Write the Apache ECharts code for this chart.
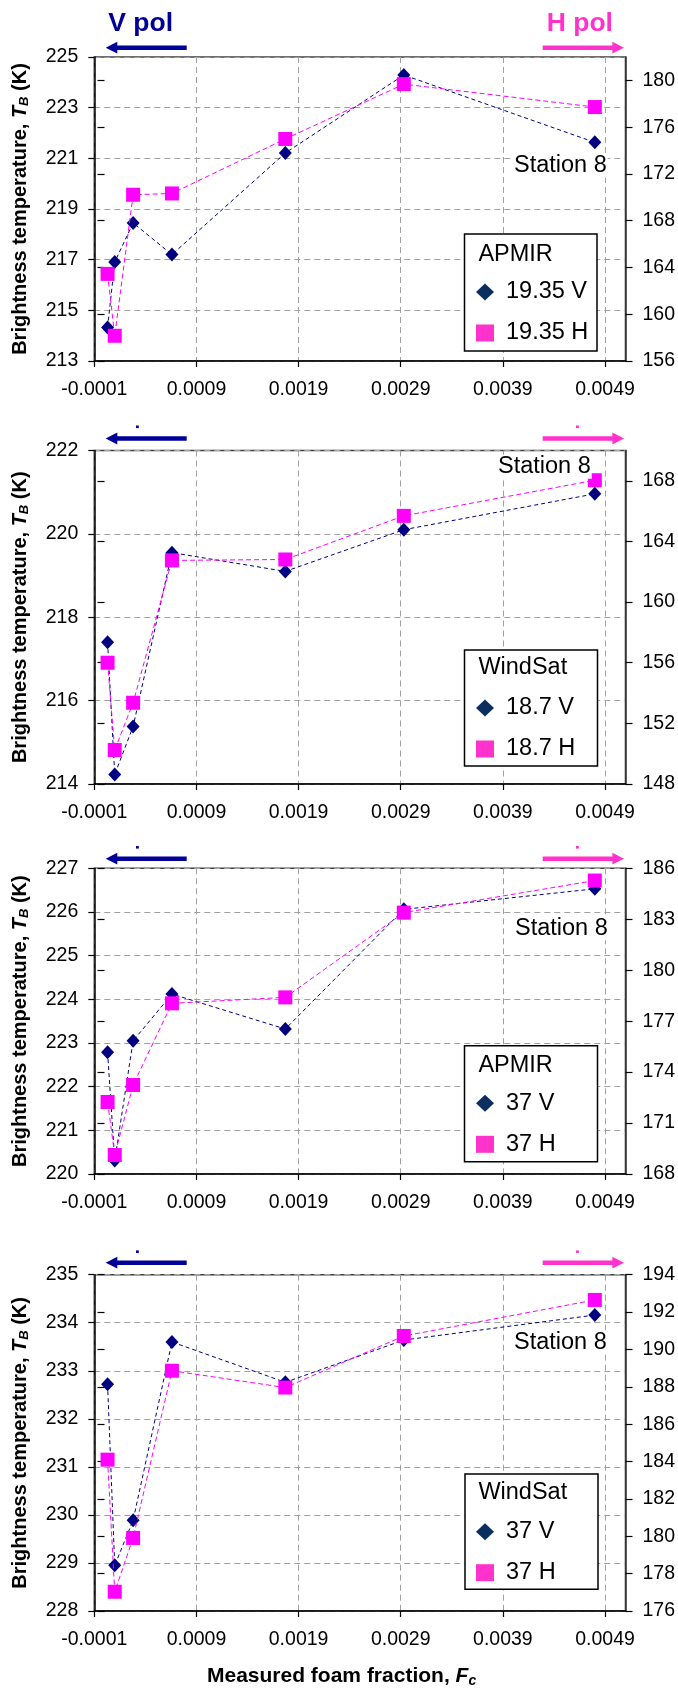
<!DOCTYPE html>
<html><head><meta charset="utf-8">
<script src="https://cdn.jsdelivr.net/npm/echarts@6/dist/echarts.min.js"></script>
<style>html,body{margin:0;padding:0;background:#fff}#c{width:678px;height:1689px}</style>
</head><body><div id="c"></div>
<script>
// ---- data ----
const fc = [0.00003, 0.0001, 0.00028, 0.00066, 0.00177, 0.00293, 0.0048];
const xTicks = [-0.0001, 0.0009, 0.0019, 0.0029, 0.0039, 0.0049];

const p1V = [214.32, 216.91, 218.45, 217.2, 221.21, 224.29, 221.63];
const p1H = [163.45, 158.16, 170.22, 170.33, 174.99, 179.68, 177.72];
const p2V = [217.4, 214.23, 215.38, 219.55, 219.1, 220.1, 220.96];
const p2H = [156.0, 150.24, 153.36, 162.75, 162.81, 165.69, 168.04];
const p3V = [222.79, 220.31, 223.05, 224.12, 223.32, 226.06, 226.53];
const p3H = [172.24, 169.12, 173.24, 178.05, 178.4, 183.39, 185.28];
const p4V = [232.72, 228.95, 229.89, 233.6, 232.76, 233.64, 234.16];
const p4H = [184.1, 177.03, 179.91, 188.86, 187.96, 190.72, 192.65];

const p1LeftTicks = [213, 215, 217, 219, 221, 223, 225];
const p1RightTicks = [156, 160, 164, 168, 172, 176, 180];
const p2LeftTicks = [214, 216, 218, 220, 222];
const p2RightTicks = [148, 152, 156, 160, 164, 168];
const p3LeftTicks = [220, 221, 222, 223, 224, 225, 226, 227];
const p3RightTicks = [168, 171, 174, 177, 180, 183, 186];
const p4LeftTicks = [228, 229, 230, 231, 232, 233, 234, 235];
const p4RightTicks = [176, 178, 180, 182, 184, 186, 188, 190, 192, 194];

const instruments = ['APMIR', 'WindSat', 'APMIR', 'WindSat'];
const vNames = ['19.35 V', '18.7 V', '37 V', '37 V'];
const hNames = ['19.35 H', '18.7 H', '37 H', '37 H'];

// ---- layout (positions/styles) ----
const FONT = 'Liberation Sans, Arial, sans-serif';
const panels = [
  {top:57, height:304, lmin:213, lmax:225, lint:2, rmin:156, rmax:182, rint:4, lt:p1LeftTicks, rt:p1RightTicks, v:p1V, h:p1H,
   box:[464.5,234,132.5,117], title:255, leg:292, st:[513,165.7], arrowY:47.7, dotY:null},
  {top:450.5, height:333.5, lmin:214, lmax:222, lint:2, rmin:148, rmax:170, rint:4, lt:p2LeftTicks, rt:p2RightTicks, v:p2V, h:p2H,
   box:[464.5,650,133,116], title:668, leg:708, st:[497,466.7], arrowY:438.5, dotY:426.8},
  {top:868.3, height:305.7, lmin:220, lmax:227, lint:1, rmin:168, rmax:186, rint:3, lt:p3LeftTicks, rt:p3RightTicks, v:p3V, h:p3H,
   box:[464.5,1045.7,133,116], title:1066, leg:1103.3, st:[514,928.3], arrowY:858.7, dotY:847.3},
  {top:1274.7, height:336.3, lmin:228, lmax:235, lint:1, rmin:176, rmax:194, rint:2, lt:p4LeftTicks, rt:p4RightTicks, v:p4V, h:p4H,
   box:[465,1474,133,115.3], title:1493, leg:1531.7, st:[513,1342.3], arrowY:1262.7, dotY:1251.7}
];

const VCOL = '#000080', HCOL = '#ff00ff';
const VPOL = '#000099', HPOL = '#ff33cc';
const grid = [], xAxis = [], yAxis = [], series = [], legend = [], elements = [];
const gridDash = {color:'#a0a0a0', type:[6,4], width:1};
const labelStyle = {fontSize:19.5, color:'#000', fontFamily:FONT};

panels.forEach((p, i) => {
  grid.push({left:94.3, right:52, top:p.top, height:p.height, show:true, borderColor:'#404040', borderWidth:1.5, backgroundColor:'transparent'});
  xAxis.push({type:'value', gridIndex:i, min:-0.0001, max:0.0051, interval:0.001,
    axisLine:{show:true, onZero:false, lineStyle:{color:'#000', width:1.5}},
    axisTick:{show:true, length:6, customValues:xTicks, lineStyle:{color:'#000', width:1.2}},
    axisLabel:Object.assign({customValues:xTicks, margin:19, formatter:v => v.toFixed(4)}, labelStyle),
    splitLine:{show:true, lineStyle:gridDash}});
  yAxis.push({type:'value', gridIndex:i, position:'left', min:p.lmin, max:p.lmax, interval:p.lint,
    axisLine:{show:true, onZero:false, lineStyle:{color:'#000', width:1.5}},
    axisTick:{show:true, length:6, customValues:p.lt, lineStyle:{color:'#000', width:1.2}},
    axisLabel:Object.assign({customValues:p.lt, margin:16}, labelStyle),
    splitLine:{show:true, lineStyle:gridDash},
    name:'{a|Brightness temperature, }{t|T}{s|B}{a| (K)}', nameLocation:'middle', nameRotate:90, nameGap:63,
    nameTextStyle:{fontFamily:FONT, fontWeight:'bold', fontSize:20, color:'#000',
      rich:{a:{fontFamily:FONT, fontWeight:'bold', fontSize:20, color:'#000'},
            t:{fontFamily:FONT, fontWeight:'bold', fontStyle:'italic', fontSize:20, color:'#000'},
            s:{fontFamily:FONT, fontWeight:'bold', fontStyle:'italic', fontSize:13, color:'#000', padding:[9,0,0,0]}}}});
  yAxis.push({type:'value', gridIndex:i, position:'right', min:p.rmin, max:p.rmax, interval:p.rint,
    axisLine:{show:true, onZero:false, lineStyle:{color:'#333', width:1.5}},
    axisTick:{show:true, length:7, customValues:p.rt, lineStyle:{color:'#000', width:1.2}},
    axisLabel:Object.assign({customValues:p.rt, margin:17}, labelStyle),
    splitLine:{show:false}});
  yAxis.push({type:'value', gridIndex:i, position:'right', min:p.rmin, max:p.rmax, interval:p.rint,
    axisLine:{show:false},
    axisTick:{show:true, inside:true, length:7, customValues:p.rt, lineStyle:{color:'#000', width:1.2}},
    axisLabel:{show:false}, splitLine:{show:false}});

  series.push({type:'line', name:vNames[i], xAxisIndex:i, yAxisIndex:3*i, data:fc.map((x,k)=>[x, p.v[k]]),
    symbol:'diamond', symbolSize:[13,14], itemStyle:{color:VCOL}, lineStyle:{color:VCOL, width:1, type:[4,3]}, z:3, animation:false});
  series.push({type:'line', name:hNames[i], xAxisIndex:i, yAxisIndex:3*i+1, data:fc.map((x,k)=>[x, p.h[k]]),
    symbol:'rect', symbolSize:14, itemStyle:{color:HCOL}, lineStyle:{color:HCOL, width:1, type:[5,3]}, z:4, animation:false});

  legend.push({data:[{name:vNames[i], icon:'diamond', itemStyle:{color:'#0a2f5f'}}, {name:hNames[i], icon:'rect', itemStyle:{color:'#ff33cc'}}],
    orient:'vertical', left:476, top:p.leg-12, itemWidth:18, itemHeight:17, itemGap:17, padding:0, selectedMode:false, z:10,
    textStyle:{fontSize:23.5, color:'#000', fontFamily:FONT, lineHeight:24, padding:[0,0,0,7]}});

  const b = p.box;
  elements.push({type:'rect', z:5, shape:{x:b[0], y:b[1], width:b[2], height:b[3]}, style:{fill:'#fff', stroke:'#000', lineWidth:1.5}});
  elements.push({type:'text', z:11, x:478.4, y:p.title, style:{text:instruments[i], font:'23.5px ' + FONT, fill:'#000', verticalAlign:'middle'}});
  elements.push({type:'text', z:11, x:p.st[0], y:p.st[1], style:{text:'Station 8', font:'23.5px ' + FONT, fill:'#000', verticalAlign:'middle', backgroundColor:'#fff', padding:[0,1]}});

  const ay = p.arrowY;
  elements.push({type:'polygon', z:11, shape:{points:[[105.7,ay],[117.3,ay-5.9],[117.3,ay-2.2],[186.7,ay-2.2],[186.7,ay+2.2],[117.3,ay+2.2],[117.3,ay+5.9]]}, style:{fill:VPOL}});
  elements.push({type:'polygon', z:11, shape:{points:[[624,ay],[612.4,ay-5.9],[612.4,ay-2.2],[542.7,ay-2.2],[542.7,ay+2.2],[612.4,ay+2.2],[612.4,ay+5.9]]}, style:{fill:HPOL}});
  if (p.dotY !== null) {
    elements.push({type:'rect', z:11, shape:{x:136, y:p.dotY-1.3, width:2.8, height:2.6}, style:{fill:VPOL}});
    elements.push({type:'rect', z:11, shape:{x:576, y:p.dotY-1.3, width:2.8, height:2.6}, style:{fill:HPOL}});
  }
});

elements.push({type:'text', z:11, x:108.3, y:23.5, style:{text:'V pol', font:'bold 26.5px ' + FONT, fill:VPOL, verticalAlign:'middle'}});
elements.push({type:'text', z:11, x:546.7, y:23.5, style:{text:'H pol', font:'bold 26.5px ' + FONT, fill:HPOL, verticalAlign:'middle'}});
elements.push({type:'text', z:11, x:207, y:1676.7, style:{text:'{a|Measured foam fraction, }{t|F}{s|c}', verticalAlign:'middle',
  rich:{a:{fontFamily:FONT, fontWeight:'bold', fontSize:21, fill:'#000'},
        t:{fontFamily:FONT, fontWeight:'bold', fontStyle:'italic', fontSize:21, fill:'#000'},
        s:{fontFamily:FONT, fontWeight:'bold', fontStyle:'italic', fontSize:14, fill:'#000', padding:[9,0,0,0]}}}});

const chart = echarts.init(document.getElementById('c'), null, {renderer:'canvas'});
chart.setOption({backgroundColor:'#fff', animation:false, grid, xAxis, yAxis, series, legend, graphic:{elements}});
</script></body></html>
